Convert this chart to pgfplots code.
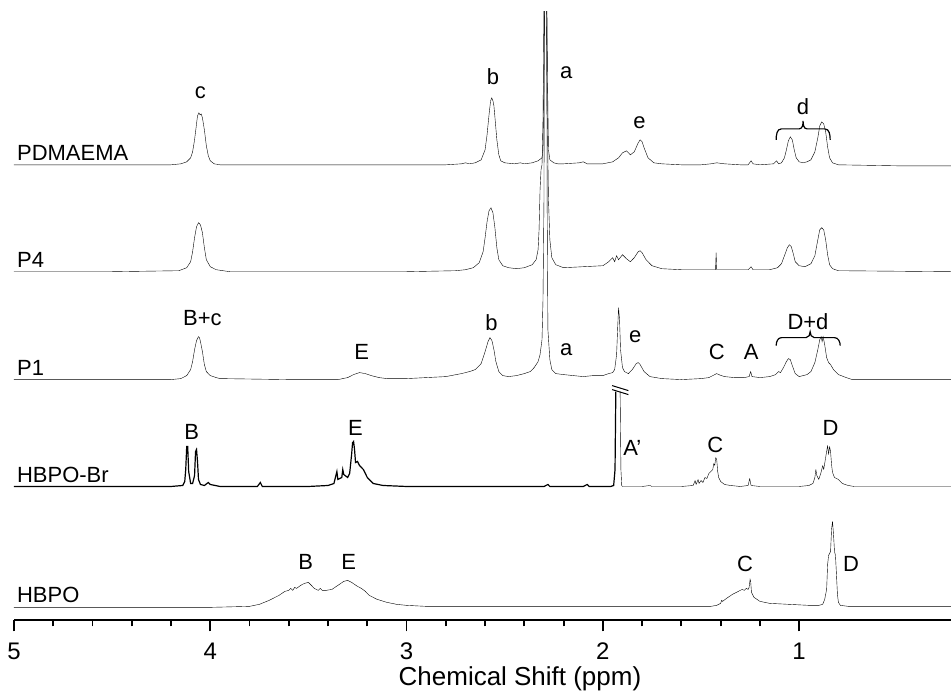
\documentclass[border=0pt]{standalone}
\usepackage{fontspec}
\setmainfont{Liberation Sans}
\usepackage{pgfplots}
\pgfplotsset{compat=1.18}
\begin{document}
\begin{tikzpicture}
\begin{axis}[
 scale only axis, width=938pt, height=609pt,
 x dir=reverse, xmin=0.2265, xmax=5, ymin=0, ymax=609,
 axis x line=bottom, axis y line=none,
 x axis line style={-, line width=2pt},
 xtick={1,2,3,4,5}, minor x tick num=4,
 tick align=outside, major tick length=11pt, minor tick length=6pt,
 tick style={black, line width=1.8pt},
 xticklabel style={font=\fontsize{24}{24}\selectfont, inner sep=0pt, anchor=north, yshift=-11pt},
 /pgf/number format/assume math mode=true,
 y filter/.expression={621-y},
 clip=true, clip mode=individual,
 cycle list={{black, solid, mark=none, line width=1.2pt, line join=round}},
]
% PDMAEMA
\addplot coordinates {(5,165) (4.5,165) (4.20,165) (4.15,164) (4.12,162) (4.10,158) (4.09,152) (4.08,140) (4.07,124) (4.065,116) (4.058,113) (4.052,115) (4.046,114) (4.04,118) (4.03,130) (4.02,146) (4.01,156) (4.00,161) (3.98,164) (3.95,165) (3.5,165) (3.0,165) (2.80,165) (2.72,164) (2.70,163) (2.68,164) (2.65,163) (2.62,160) (2.60,150) (2.59,135) (2.58,115) (2.572,101) (2.566,98) (2.56,101) (2.555,106) (2.55,117) (2.54,140) (2.53,155) (2.52,161) (2.50,163) (2.45,164) (2.42,163) (2.40,164) (2.36,163) (2.33,161) (2.31,158) (2.305,150) (2.30,80) (2.297,0) (2.285,0) (2.282,80) (2.277,150) (2.27,160) (2.25,163) (2.23,164) (2.20,164) (2.12,163) (2.10,162) (2.08,164) (2.00,164) (1.95,162) (1.92,158) (1.90,153) (1.88,151) (1.86,155) (1.84,152) (1.82,143) (1.81,140) (1.80,142) (1.79,148) (1.77,158) (1.74,163) (1.70,164) (1.60,165) (1.5,165) (1.45,164) (1.42,163) (1.38,164) (1.3,165) (1.26,165) (1.245,161) (1.235,164) (1.20,165) (1.13,164) (1.115,161) (1.105,164) (1.09,163) (1.075,158) (1.065,150) (1.055,141) (1.045,137) (1.035,140) (1.025,150) (1.015,158) (1.00,162) (0.98,163) (0.96,162) (0.94,160) (0.92,152) (0.905,138) (0.895,126) (0.885,122) (0.875,124) (0.865,132) (0.855,147) (0.845,158) (0.83,163) (0.80,165) (0.5,166) (0.2265,166)};
% P4
\addplot coordinates {(5,272) (4.5,272) (4.16,271) (4.12,268) (4.10,262) (4.09,252) (4.08,238) (4.07,227) (4.06,223) (4.05,225) (4.04,233) (4.03,248) (4.02,260) (4.00,267) (3.97,270) (3.9,272) (3.0,272) (2.75,271) (2.70,270) (2.66,268) (2.63,263) (2.61,252) (2.60,238) (2.59,222) (2.58,211) (2.57,208) (2.56,213) (2.55,228) (2.54,248) (2.53,260) (2.51,266) (2.48,268) (2.44,269) (2.40,268) (2.36,265) (2.34,260) (2.33,250) (2.325,230) (2.32,190) (2.315,170) (2.31,165) (2.305,120) (2.30,0) (2.288,0) (2.283,120) (2.277,200) (2.27,240) (2.26,258) (2.24,265) (2.20,268) (2.1,267) (2.0,266) (1.97,262) (1.95,258) (1.94,262) (1.93,256) (1.92,260) (1.90,255) (1.88,259) (1.86,262) (1.84,258) (1.82,252) (1.81,251) (1.80,253) (1.78,260) (1.75,266) (1.70,269) (1.6,270) (1.45,270) (1.426,270) (1.423,253) (1.42,270) (1.40,270) (1.3,270) (1.26,270) (1.245,267) (1.235,270) (1.15,270) (1.11,268) (1.09,264) (1.075,256) (1.06,248) (1.05,245) (1.04,247) (1.03,254) (1.02,262) (1.00,266) (0.97,267) (0.94,264) (0.92,256) (0.905,240) (0.895,230) (0.885,228) (0.875,230) (0.865,240) (0.855,255) (0.845,265) (0.83,269) (0.80,271) (0.2265,272)};
% P1
\addplot coordinates {(5,380) (4.5,380) (4.20,380) (4.15,379) (4.12,376) (4.10,370) (4.09,362) (4.08,350) (4.07,341) (4.06,337) (4.055,338) (4.05,342) (4.04,352) (4.03,365) (4.02,372) (4.00,376) (3.97,378) (3.95,379) (3.6,380) (3.35,380) (3.30,378) (3.27,375) (3.24,373) (3.21,374) (3.18,376) (3.14,378) (3.10,379) (3.0,379) (2.90,378) (2.80,377) (2.72,374) (2.68,372) (2.65,370) (2.62,364) (2.60,352) (2.585,342) (2.575,338) (2.565,341) (2.555,350) (2.545,362) (2.53,372) (2.51,376) (2.48,377) (2.44,376) (2.40,374) (2.37,372) (2.35,368) (2.33,362) (2.32,355) (2.31,340) (2.305,300) (2.30,200) (2.298,0) (2.286,0) (2.284,200) (2.28,330) (2.27,360) (2.26,370) (2.24,374) (2.20,375) (2.15,376) (2.10,377) (2.05,376) (2.0,376) (1.97,374) (1.95,373) (1.94,370) (1.93,355) (1.925,330) (1.92,308) (1.915,320) (1.91,350) (1.90,368) (1.89,372) (1.87,374) (1.85,370) (1.83,364) (1.82,363) (1.81,365) (1.79,372) (1.76,377) (1.70,379) (1.6,380) (1.5,379) (1.46,378) (1.43,375) (1.42,374) (1.41,375) (1.38,377) (1.33,378) (1.28,378) (1.255,377) (1.247,372) (1.24,377) (1.20,378) (1.15,377) (1.12,375) (1.105,372) (1.095,373) (1.08,368) (1.065,362) (1.055,359) (1.045,360) (1.035,366) (1.02,374) (1.00,377) (0.98,376) (0.96,375) (0.94,372) (0.92,363) (0.905,350) (0.895,340) (0.888,337) (0.883,342) (0.878,337) (0.87,345) (0.86,358) (0.85,363) (0.84,365) (0.825,370) (0.80,375) (0.76,378) (0.73,380) (0.2265,380)};
% HBPO-Br (left part up to the break)
\addplot coordinates {(5,487) (4.5,487) (4.2,487) (4.14,486) (4.13,482) (4.125,470) (4.12,447) (4.115,447) (4.11,472) (4.10,484) (4.09,484) (4.08,476) (4.075,452) (4.07,450) (4.065,462) (4.06,480) (4.05,485) (4.03,486) (4.01,483) (4.00,485) (3.95,487) (3.76,487) (3.745,483) (3.735,487) (3.5,487) (3.40,486) (3.37,484) (3.36,476) (3.355,472) (3.35,480) (3.33,478) (3.325,470) (3.32,475) (3.30,478) (3.29,474) (3.28,455) (3.275,443) (3.27,442) (3.265,450) (3.26,463) (3.25,462) (3.24,466) (3.22,470) (3.20,478) (3.17,484) (3.12,486) (3.0,487) (2.30,487) (2.28,485) (2.27,487) (2.1,487) (2.08,485) (2.07,487) (1.96,487) (1.945,486) (1.938,470) (1.934,392)};
% HBPO-Br (right part after the break)
\addplot coordinates {(1.912,392) (1.908,470) (1.904,486) (1.90,487) (1.80,487) (1.76,486) (1.75,487) (1.6,487) (1.54,486) (1.53,481) (1.525,485) (1.515,480) (1.51,484) (1.50,481) (1.49,483) (1.48,478) (1.47,479) (1.46,474) (1.45,472) (1.44,470) (1.435,464) (1.43,466) (1.425,458) (1.42,460) (1.415,472) (1.41,478) (1.40,482) (1.38,485) (1.35,486) (1.3,487) (1.26,486) (1.252,479) (1.245,486) (1.2,487) (1.0,487) (0.95,486) (0.93,484) (0.92,478) (0.915,470) (0.91,476) (0.90,480) (0.89,474) (0.88,466) (0.875,470) (0.865,458) (0.86,452) (0.855,446) (0.85,455) (0.845,447) (0.84,452) (0.835,465) (0.83,473) (0.82,478) (0.80,480) (0.78,484) (0.75,486) (0.72,487) (0.2265,487)};
% HBPO
\addplot coordinates {(5,608) (4.0,608) (3.80,607) (3.75,605) (3.70,601) (3.65,596) (3.62,592) (3.60,591) (3.59,589) (3.58,591) (3.57,588) (3.56,589) (3.54,586) (3.52,584) (3.50,583) (3.49,585) (3.47,589) (3.45,591) (3.44,589) (3.43,591) (3.41,591) (3.38,590) (3.35,586) (3.32,582) (3.30,581) (3.28,583) (3.25,587) (3.23,589) (3.21,592) (3.19,596) (3.15,600) (3.10,603) (3.05,605) (3.00,606) (2.9,607) (2.0,607) (1.45,607) (1.42,606) (1.40,604) (1.395,601) (1.39,602) (1.37,599) (1.34,595) (1.31,592) (1.29,590) (1.28,591) (1.27,589) (1.26,590) (1.255,588) (1.25,580) (1.247,582) (1.243,593) (1.23,598) (1.20,602) (1.15,604) (1.05,605) (0.95,606) (0.90,606) (0.88,605) (0.87,600) (0.86,590) (0.855,565) (0.85,556) (0.84,552) (0.835,530) (0.83,522) (0.825,535) (0.82,552) (0.815,556) (0.81,575) (0.805,595) (0.80,603) (0.79,606) (0.75,607) (0.2265,607)};
% break mark
\draw[line width=1pt] (axis cs:1.953,235) -- (axis cs:1.870,230);
\draw[line width=1pt] (axis cs:1.953,231) -- (axis cs:1.870,226);
% braces
\draw[line width=1.2pt] (axis cs:1.117,481) to[out=90,in=180] (axis cs:1.09,492) -- (axis cs:1.00,492) to[out=0,in=-90] (axis cs:0.98,500) to[out=-90,in=180] (axis cs:0.96,492) -- (axis cs:0.87,492) to[out=0,in=90] (axis cs:0.842,481);
\draw[line width=1.2pt] (axis cs:1.117,275) to[out=90,in=180] (axis cs:1.09,283) -- (axis cs:0.965,283) to[out=0,in=-90] (axis cs:0.944,289) to[out=-90,in=180] (axis cs:0.923,283) -- (axis cs:0.82,283) to[out=0,in=90] (axis cs:0.791,275);
% sample names
\begin{scope}[every node/.style={font=\fontsize{22}{22}\selectfont, inner sep=0pt}]
\node[anchor=base west] at (axis cs:4.985,460) {PDMAEMA};
\node[anchor=base west] at (axis cs:4.985,353) {P4};
\node[anchor=base west] at (axis cs:4.985,245) {P1};
\node[anchor=base west] at (axis cs:4.985,138) {HBPO-Br};
\node[anchor=base west] at (axis cs:4.985,18) {HBPO};
% peak labels
\node at (axis cs:4.05,528) {c};
\node at (axis cs:2.56,544) {b};
\node at (axis cs:2.186,548) {a};
\node at (axis cs:1.814,498) {e};
\node at (axis cs:0.98,514) {d};
\node at (axis cs:4.04,303) {B+c};
\node at (axis cs:3.229,269) {E};
\node at (axis cs:2.567,298) {b};
\node at (axis cs:2.186,271) {a};
\node at (axis cs:1.835,284) {e};
\node at (axis cs:1.42,269) {C};
\node at (axis cs:1.244,269) {A};
\node at (axis cs:0.955,299) {D+d};
\node at (axis cs:4.095,189) {B};
\node at (axis cs:3.26,193) {E};
\node at (axis cs:1.85,173) {A'};
\node at (axis cs:1.427,176) {C};
\node at (axis cs:0.84,193) {D};
\node at (axis cs:3.514,58) {B};
\node at (axis cs:3.295,58) {E};
\node at (axis cs:1.275,56) {C};
\node at (axis cs:0.735,56) {D};
\end{scope}
\coordinate (xl) at (axis cs:3.041,-46);
\coordinate (bl) at (rel axis cs:0,0);
\coordinate (tr) at (rel axis cs:1,1);
\end{axis}
\node[anchor=north west, inner sep=0pt, font=\fontsize{26}{26}\selectfont] at (xl) {Chemical Shift (ppm)};
\path ([shift={(-14pt,-71pt)}]bl) rectangle ([shift={(0pt,12pt)}]tr);
\end{tikzpicture}
\end{document}
